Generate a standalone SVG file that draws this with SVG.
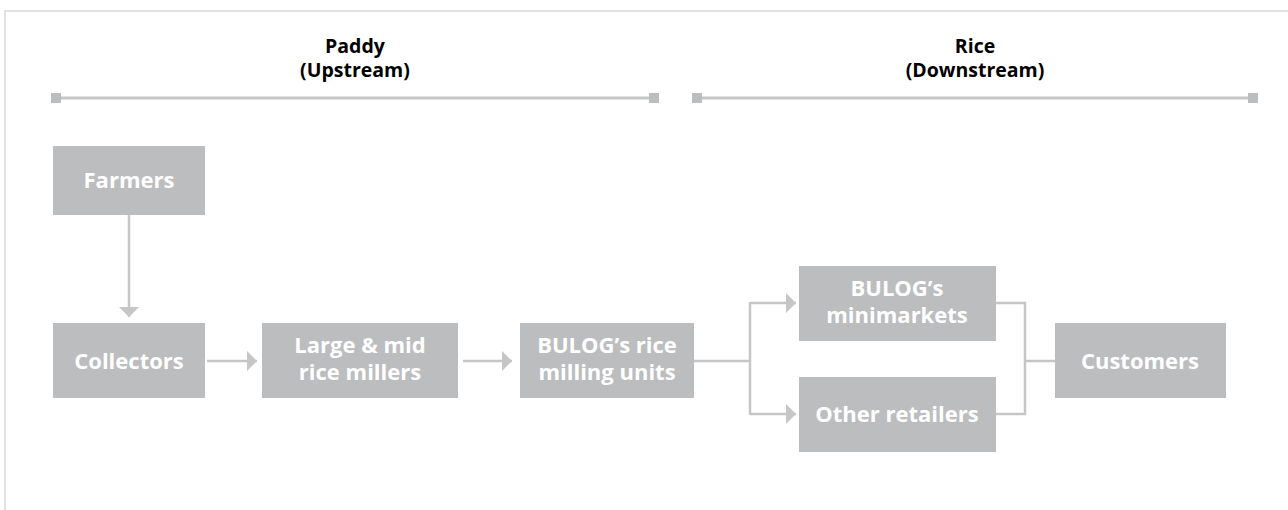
<svg xmlns="http://www.w3.org/2000/svg" width="1288" height="510" viewBox="0 0 1288 510">
<style>
.box{fill:#bcbdbf}
.bt{font-family:"Open Sans","Liberation Sans",sans-serif;font-weight:bold;font-size:22px;fill:#ffffff;text-anchor:middle}
.ht{font-family:"Open Sans","Liberation Sans",sans-serif;font-weight:bold;font-size:19.5px;fill:#000000;text-anchor:middle}
.con{fill:none;stroke:#c6c6c6;stroke-width:2.5}
.hl{stroke:#c6c6c6;stroke-width:3}
.sq{fill:#bcbdbf}
</style>
<defs>
<marker id="ah" viewBox="0 0 10 20" refX="10" refY="10" markerWidth="10" markerHeight="20" markerUnits="userSpaceOnUse" orient="auto">
<path d="M0,0 L10,10 L0,20 z" fill="#c6c6c6"/>
</marker>
</defs>
<rect x="0" y="0" width="1288" height="510" fill="#ffffff"/>
<path d="M5,510 V11 H1288" fill="none" stroke="#e2e2e2" stroke-width="2"/>
<g id="header-paddy">
<text class="ht" x="355" y="53">Paddy</text>
<text class="ht" x="355" y="77">(Upstream)</text>
<line class="hl" x1="56" y1="98" x2="654" y2="98"/>
<rect class="sq" x="51" y="93" width="10" height="10"/>
<rect class="sq" x="649" y="93" width="10" height="10"/>
</g>
<g id="header-rice">
<text class="ht" x="975" y="53">Rice</text>
<text class="ht" x="975" y="77">(Downstream)</text>
<line class="hl" x1="697" y1="98" x2="1253" y2="98"/>
<rect class="sq" x="692" y="93" width="10" height="10"/>
<rect class="sq" x="1248" y="93" width="10" height="10"/>
</g>
<g id="connectors">
<line class="con" x1="129" y1="215" x2="129" y2="317" marker-end="url(#ah)"/>
<line class="con" x1="207" y1="361" x2="257" y2="361" marker-end="url(#ah)"/>
<line class="con" x1="463" y1="361" x2="512" y2="361" marker-end="url(#ah)"/>
<path class="con" d="M694,361 H750 M750,302 V415"/>
<path class="con" d="M750,303 H796" marker-end="url(#ah)"/>
<path class="con" d="M750,414 H796" marker-end="url(#ah)"/>
<path class="con" d="M996,303 H1025 V414 H996 M1025,361 H1055"/>
</g>
<g id="farmers">
<rect class="box" x="53" y="146" width="152" height="69"/>
<text class="bt" x="129" y="188">Farmers</text>
</g>
<g id="collectors">
<rect class="box" x="53" y="323" width="152" height="75"/>
<text class="bt" x="129" y="369">Collectors</text>
</g>
<g id="large-mid-millers">
<rect class="box" x="262" y="323" width="196" height="75"/>
<text class="bt" x="360" y="353">Large &amp; mid</text>
<text class="bt" x="360" y="380">rice millers</text>
</g>
<g id="bulog-milling">
<rect class="box" x="520" y="323" width="174" height="75"/>
<text class="bt" x="607" y="353">BULOG’s rice</text>
<text class="bt" x="607" y="380">milling units</text>
</g>
<g id="bulog-minimarkets">
<rect class="box" x="799" y="266" width="197" height="75"/>
<text class="bt" x="897" y="296">BULOG’s</text>
<text class="bt" x="897" y="323">minimarkets</text>
</g>
<g id="other-retailers">
<rect class="box" x="799" y="377" width="197" height="75"/>
<text class="bt" x="897" y="422">Other retailers</text>
</g>
<g id="customers">
<rect class="box" x="1055" y="323" width="171" height="75"/>
<text class="bt" x="1140" y="369">Customers</text>
</g>
</svg>
